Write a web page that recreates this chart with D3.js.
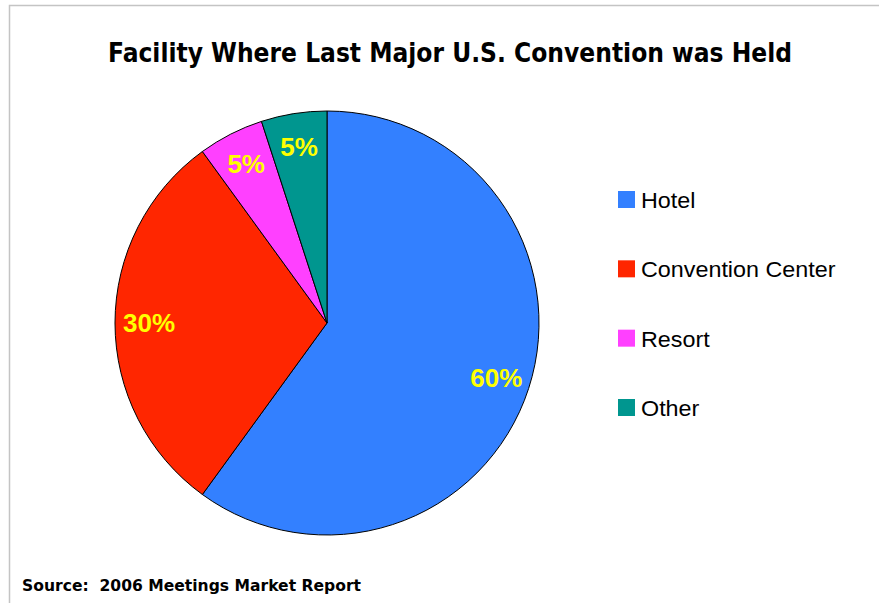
<!DOCTYPE html>
<html>
<head>
<meta charset="utf-8">
<script src="https://cdn.jsdelivr.net/npm/d3@7"></script>
<style>
  html, body { margin: 0; padding: 0; background: #fff; }
  svg { display: block; }
</style>
</head>
<body>
<svg id="chart" width="879" height="603"></svg>
<script>
const categories = ["Hotel", "Convention Center", "Resort", "Other"];
const values = [60, 30, 5, 5];
const colors = ["#3380FF", "#FF2600", "#FF40FF", "#00968F"];
const valueLabels = ["60%", "30%", "5%", "5%"];
const titleText = "Facility Where Last Major U.S. Convention was Held";
const sourceText = "Source:  2006 Meetings Market Report";

const svg = d3.select("#chart");

// frame
svg.append("path")
  .attr("d", "M9.5,603 L9.5,5.5 L879,5.5")
  .attr("fill", "none")
  .attr("stroke", "#c4c4c4")
  .attr("stroke-width", 1.5);

// title
svg.append("text")
  .attr("x", 450).attr("y", 62)
  .attr("text-anchor", "middle")
  .attr("font-family", "DejaVu Sans, Verdana, sans-serif")
  .attr("font-weight", "bold")
  .attr("font-size", 26)
  .attr("textLength", 684)
  .attr("lengthAdjust", "spacingAndGlyphs")
  .attr("fill", "#000")
  .text(titleText);

// pie
const cx = 327, cy = 323, R = 212;
const data = categories.map((c, i) => ({ cat: c, value: values[i], color: colors[i], label: valueLabels[i] }));
const pie = d3.pie().value(d => d.value).sort(null);
const arcs = pie(data);
const arc = d3.arc().innerRadius(0).outerRadius(R);
const labelArc = d3.arc().innerRadius(178).outerRadius(178);

const g = svg.append("g").attr("transform", `translate(${cx},${cy})`);
g.selectAll("path.slice").data(arcs).enter().append("path")
  .attr("class", "slice")
  .attr("d", arc)
  .attr("fill", d => d.data.color)
  .attr("stroke", "#000")
  .attr("stroke-width", 1)
  .attr("stroke-linejoin", "round");

g.selectAll("text.lbl").data(arcs).enter().append("text")
  .attr("class", "lbl")
  .attr("transform", d => `translate(${labelArc.centroid(d)})`)
  .attr("text-anchor", "middle")
  .attr("dominant-baseline", "central")
  .attr("font-family", "Liberation Sans, Arial, sans-serif")
  .attr("font-weight", "bold")
  .attr("font-size", 26)
  .attr("fill", "#FFFF00")
  .text(d => d.data.label);

// legend
const legendY = d3.scalePoint().domain(categories).range([199.5, 407.5]);
const lg = svg.append("g");
const items = lg.selectAll("g").data(data).enter().append("g")
  .attr("transform", d => `translate(618,${legendY(d.cat)})`);
items.append("rect")
  .attr("x", 0).attr("y", -8.5)
  .attr("width", 17).attr("height", 17)
  .attr("fill", d => d.color);
items.append("text")
  .attr("x", 23).attr("y", 8.5)
  .attr("font-family", "Liberation Sans, Arial, sans-serif")
  .attr("font-size", 22)
  .attr("textLength", d => null)
  .attr("fill", "#000")
  .text(d => d.cat)
  .each(function(d) {
    // slight widen to match reference glyph width
    const w = this.getComputedTextLength();
    d3.select(this).attr("textLength", w * 1.06).attr("lengthAdjust", "spacingAndGlyphs");
  });

// source
svg.append("text")
  .attr("x", 22).attr("y", 591)
  .attr("xml:space", "preserve")
  .style("white-space", "pre")
  .attr("font-family", "DejaVu Sans, Verdana, sans-serif")
  .attr("font-weight", "bold")
  .attr("font-size", 15)
  .attr("textLength", 339)
  .attr("lengthAdjust", "spacingAndGlyphs")
  .attr("fill", "#000")
  .text(sourceText);
</script>
</body>
</html>
